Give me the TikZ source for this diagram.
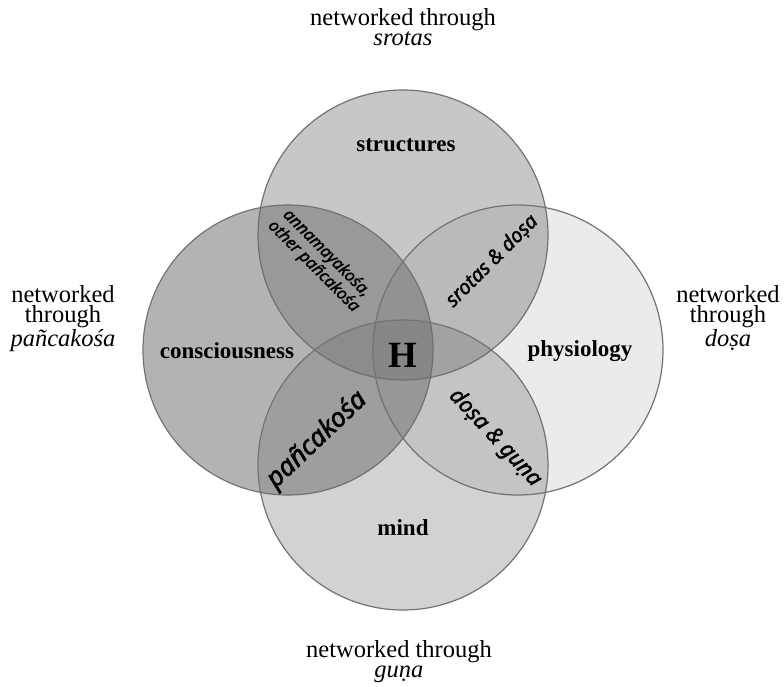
\documentclass[tikz,border=0pt]{standalone}
\usepackage{fontspec}
\setmainfont{Liberation Serif}
\newfontfamily\handfont[FakeBold=1.8]{Noto Sans}
\usetikzlibrary{positioning}

\begin{document}
\begin{tikzpicture}[x=0.5pt,y=-0.5pt,font=\fontsize{11.5}{13}\selectfont\bfseries]
    \tikzstyle{venn}=[draw=black!55, line width=0.6pt, fill=black!57]
    \tikzstyle{outer}=[font=\fontsize{12.25}{10}\selectfont, align=center, inner sep=0pt, anchor=north]
    \tikzstyle{lens}=[align=center, inner sep=0pt]
    \useasboundingbox (0,0) rectangle (784,687);

    % the four circles
    \draw [venn, fill opacity=0.39] (403,235) circle [radius=145];
    \draw [venn, fill opacity=0.52] (288,350) circle [radius=145];
    \draw [venn, fill opacity=0.14] (518,350) circle [radius=145];
    \draw [venn, fill opacity=0.31] (403,465) circle [radius=145];

    \node (structures) at (406,145) {structures};
    \node (consciousness) at (227,351) {consciousness};
    \node (physiology) at (580,351) {physiology};
    \node (mind) at (403,528) {mind};
    \node [font=\fontsize{18.5}{20}\selectfont\bfseries] (H) at (403,355) {H};

    \node [lens, rotate=-45, font=\handfont\itshape\fontsize{8.2}{9.2}\selectfont] (annamaya) at (320,260) {annamayakośa,\\ other pañcakośa};
    \node [lens, rotate=45, font=\handfont\itshape\fontsize{10}{11}\selectfont] (srotasdosa) at (492,261) {srotas \& doṣa};
    \node [lens, rotate=43.5, font=\handfont\itshape\fontsize{13.3}{14}\selectfont] (pancakosa) at (317,440) {pañcakośa};
    \node [lens, rotate=-47, font=\handfont\itshape\fontsize{11}{12}\selectfont] (dosaguna) at (495,438) {doṣa \& guṇa};

    \node [outer] (nsrotas) at (403,8) {networked through\\ \textit{srotas}};
    \node [outer] (npancakosa) at (63,285) {networked\\ through\\ \textit{pañcakośa}};
    \node [outer] (ndosa) at (728,285) {networked\\ through\\ \textit{doṣa}};
    \node [outer] (nguna) at (399,640) {networked through\\ \textit{guṇa}};
\end{tikzpicture}
\end{document}
